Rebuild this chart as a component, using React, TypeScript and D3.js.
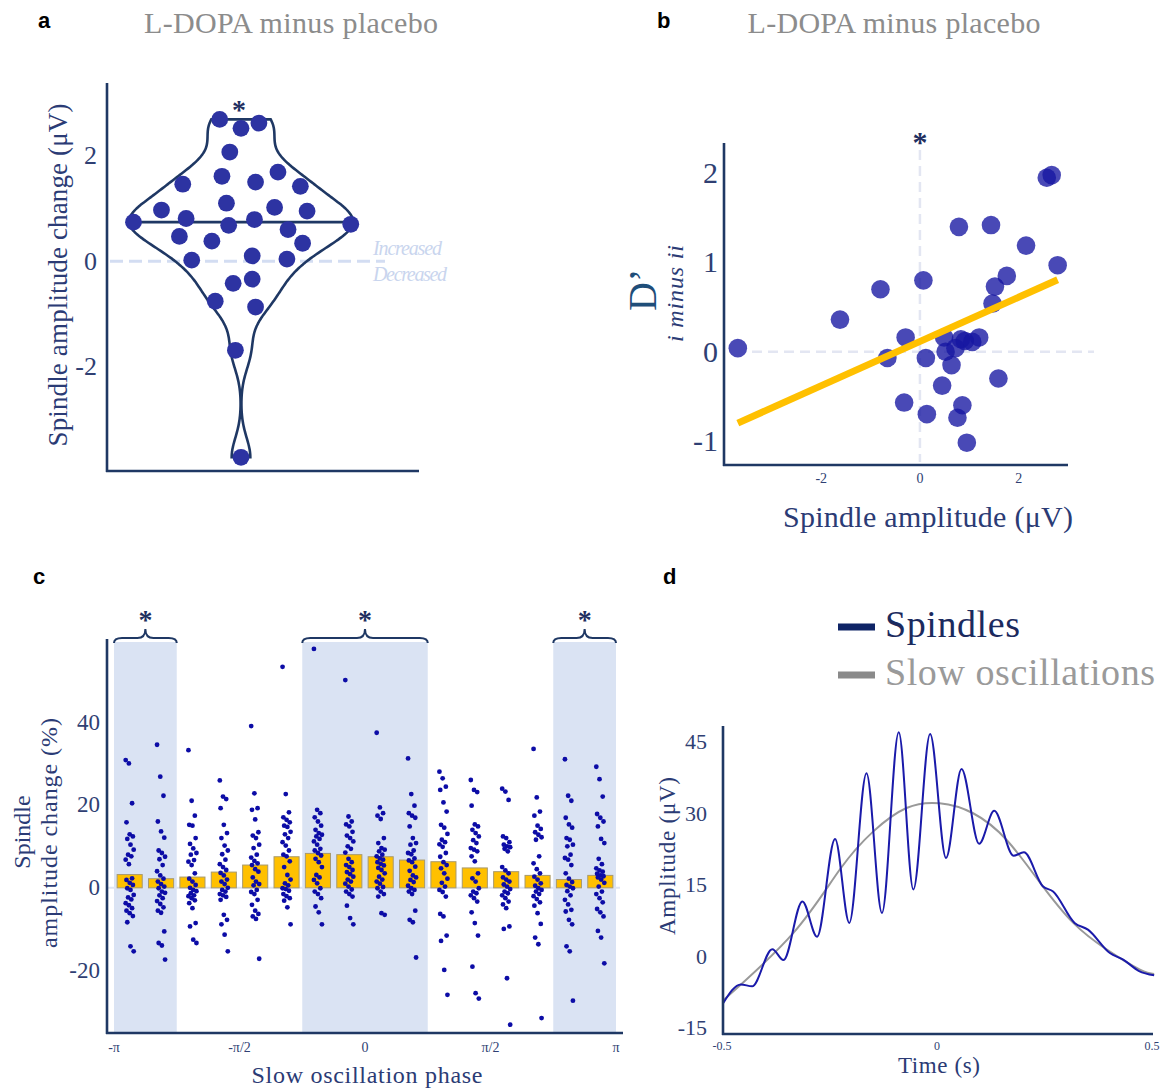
import React from "react";
import * as d3 from "d3";

const SERIF = "'Liberation Serif', 'DejaVu Serif', serif";
const SANS = "'Liberation Sans', Arial, sans-serif";
const NAVY = "#1f3864";
const TICK = "#2f3f73";
const TITLE = "#2b3b75";

// ---- panel a: L-DOPA minus placebo, spindle amplitude change (uV)
const ampChange = [2.69, 2.52, 2.62, 2.07, 1.61, 1.5, 1.69, 1.46, 1.42, 0.97, 1.1, 1.02, 0.95, 0.74, 0.81, 0.68,
  0.79, 0.7, 0.47, 0.6, 0.38, 0.34, 0.02, 0.1, 0.04, -0.42, -0.34, -0.76, -0.87, -1.69, -3.72];
// horizontal spread of each point, as a share of the violin's widest half
const ampJitter = [-0.19, 0, 0.16, -0.1, -0.17, 0.13, 0.33, -0.52, 0.53, -0.71, -0.13, 0.3, 0.59, -0.96, -0.49, -0.11,
  0.12, 0.98, -0.55, 0.42, -0.26, 0.55, -0.44, 0.1, 0.41, -0.07, 0.1, -0.23, 0.13, -0.05, 0];
const ampTicks = [-2, 0, 2];
const violinBandwidth = 0.37;

// ---- panel b: D' (i minus ii) against spindle amplitude
const spindleAmp = [-3.69, -1.62, -0.8, 0.07, -0.29, -0.66, 0.12, -0.32, 0.14, 0.45, 0.49, 0.52, 0.64, 0.72, 0.83, 0.91,
  1.06, 1.2, 0.86, 0.76, 0.95, 0.79, 1.44, 1.59, 1.47, 1.52, 1.76, 2.15, 2.79, 2.57, 2.67];
const dPrime = [0.04, 0.36, 0.7, 0.8, 0.16, -0.07, -0.07, -0.57, -0.7, -0.38, 0.16, 0.0, -0.15, 0.04, 0.14, 0.12,
  0.11, 0.16, -0.6, -0.74, -1.02, 1.4, 1.42, -0.3, 0.54, 0.73, 0.85, 1.19, 0.97, 1.95, 1.98];
const fitSlope = 0.248;
const fitIntercept = 0.115;
const bxTicks = [-2, 0, 2];
const byTicks = [-1, 0, 1, 2];

// ---- panel c: amplitude change per slow oscillation phase bin (%)
const phaseMeans = [3.2, 2.2, 2.6, 3.8, 5.5, 7.5, 8.3, 8.0, 7.5, 6.7, 6.3, 4.8, 3.9, 3.0, 2.0, 3.0];
const phaseValues = [
  [30.8, 30.0, 20.4, 15.8, 12.9, 12.4, 11.8, 10.4, 9.2, 8.0, 7.6, 6.8, 5.7, 2.3, 1.9, 1.2, 0.7, -0.1, -0.5, -1.7, -2.3, -2.8, -3.7, -4.2, -4.9, -5.5, -6.1, -6.8, -8.3, -14.1, -15.3],
  [34.5, 26.8, 22.2, 16.0, 13.6, 12.1, 9.0, 8.4, 7.5, 6.9, 5.5, 4.0, 3.0, 2.2, 1.5, 0.9, 0.3, -0.1, -0.9, -1.2, -1.8, -2.5, -3.2, -3.9, -4.7, -5.5, -6.0, -10.5, -13.3, -13.9, -17.3],
  [33.2, 21.0, 17.4, 15.2, 15.0, 12.0, 10.6, 9.5, 8.4, 8.0, 6.7, 6.3, 5.5, 3.5, 2.2, 1.5, 0.7, 0.0, -0.5, -0.8, -1.3, -1.8, -2.0, -2.5, -3.0, -3.7, -4.9, -8.5, -9.3, -12.5, -13.3],
  [25.9, 22.0, 21.4, 19.2, 15.2, 13.2, 12.0, 10.2, 9.0, 8.1, 6.8, 5.7, 5.0, 4.3, 3.6, 3.0, 2.0, 1.5, 0.9, 0.0, -0.5, -0.9, -1.5, -1.8, -2.2, -2.9, -6.5, -7.7, -8.8, -11.3, -15.3],
  [39.0, 22.8, 19.2, 18.8, 16.5, 13.4, 12.6, 12.0, 10.4, 9.6, 8.0, 7.3, 6.5, 5.9, 5.5, 4.5, 3.9, 2.5, 1.5, 0.9, 0.6, -0.5, -1.0, -1.5, -2.9, -4.1, -5.5, -6.3, -6.9, -7.5, -17.1],
  [53.3, 22.6, 18.2, 17.0, 16.4, 15.8, 15.0, 14.7, 13.5, 12.9, 12.0, 11.0, 10.2, 9.0, 8.0, 7.6, 6.4, 5.0, 3.1, 2.0, 1.1, 0.6, -0.1, -0.3, -0.7, -1.5, -2.0, -2.5, -3.1, -4.7, -8.8],
  [57.6, 18.8, 18.0, 17.0, 16.0, 15.0, 14.0, 13.2, 12.8, 12.4, 11.8, 11.2, 10.4, 9.4, 9.0, 8.4, 7.8, 7.0, 6.2, 5.0, 3.1, 2.5, 1.9, 1.1, -0.1, -0.9, -1.5, -2.5, -4.5, -5.9, -8.8],
  [50.1, 17.2, 16.0, 15.3, 14.8, 13.5, 12.6, 12.0, 11.2, 10.0, 9.4, 8.5, 7.0, 6.2, 5.5, 5.0, 4.3, 3.8, 3.3, 2.7, 2.0, 1.5, 1.0, 0.3, -0.4, -0.9, -1.5, -2.1, -4.3, -7.3, -8.8],
  [37.4, 19.4, 18.0, 17.4, 16.6, 12.0, 10.8, 9.6, 9.2, 8.8, 8.0, 7.6, 7.1, 6.8, 6.2, 5.8, 5.4, 4.8, 4.3, 3.5, 2.7, 2.0, 1.5, 1.0, 0.2, -0.1, -0.9, -1.5, -2.1, -6.1, -6.5],
  [31.2, 22.6, 19.8, 18.0, 17.4, 16.9, 14.8, 12.0, 10.8, 10.4, 9.0, 8.4, 8.1, 7.1, 6.6, 6.2, 5.1, 4.1, 3.0, 2.5, 1.9, 1.4, 0.5, -0.1, -0.5, -0.9, -1.5, -5.5, -7.7, -8.3, -16.8],
  [28.0, 26.4, 24.4, 23.6, 20.6, 18.4, 15.2, 14.5, 13.0, 11.6, 11.0, 10.5, 9.9, 8.4, 7.5, 6.2, 5.5, 4.7, 3.5, 2.2, 1.2, 0.3, -0.5, -1.0, -2.1, -6.3, -6.9, -11.5, -12.8, -19.8, -25.8],
  [26.0, 23.6, 23.1, 19.8, 15.3, 14.8, 14.0, 13.2, 12.4, 11.5, 10.8, 9.6, 9.2, 8.8, 7.6, 6.4, 3.5, 2.3, 1.5, -0.1, -0.9, -1.3, -1.8, -2.5, -3.3, -5.9, -8.5, -11.5, -19.0, -25.4, -26.7],
  [23.9, 23.2, 21.2, 12.4, 12.0, 11.0, 10.4, 10.0, 9.8, 9.4, 8.8, 5.0, 4.2, 3.5, 2.5, 2.0, 1.5, 0.8, 0.3, -0.3, -0.9, -1.3, -1.8, -2.5, -3.3, -4.0, -4.9, -9.3, -9.9, -21.8, -33.0],
  [33.5, 21.8, 18.4, 17.4, 15.0, 14.2, 13.4, 12.8, 12.2, 11.6, 7.6, 5.9, 4.5, 3.5, 2.7, 2.0, 1.1, 0.5, -0.1, -0.5, -0.9, -1.5, -2.0, -2.7, -3.5, -4.3, -6.1, -8.7, -12.0, -13.6, -31.4],
  [31.0, 22.2, 21.0, 16.9, 15.3, 14.5, 12.0, 11.6, 10.4, 10.0, 8.0, 7.2, 6.8, 5.5, 3.5, 2.2, 1.4, 0.7, 0.3, -0.1, -0.8, -1.8, -2.9, -4.0, -5.3, -5.7, -7.7, -8.8, -14.1, -15.3, -27.2],
  [29.2, 26.2, 22.0, 17.8, 16.9, 16.0, 14.8, 11.8, 10.8, 7.0, 5.7, 4.7, 4.2, 3.9, 3.4, 3.0, 2.8, 2.5, 2.0, 1.2, 0.3, -0.9, -1.5, -2.5, -3.5, -5.1, -5.9, -6.9, -10.4, -12.0, -18.2],
];
const sigRanges = [[0, 1], [6, 9], [14, 15]];
const phaseTicks = [-Math.PI, -Math.PI / 2, 0, Math.PI / 2, Math.PI];
const phaseTickLabels = ["-π", "-π/2", "0", "π/2", "π"];
const cTicks = [-20, 0, 20, 40];

// ---- panel d: averaged traces
const spTime = [-0.497, -0.456, -0.43, -0.383, -0.357, -0.313, -0.279, -0.237, -0.204, -0.164, -0.128, -0.089, -0.055,
  -0.016, 0.021, 0.057, 0.098, 0.133, 0.178, 0.202, 0.246, 0.27, 0.32, 0.351, 0.402, 0.433, 0.47, 0.505];
const spAmp = [-9.8, -5.9, -6.3, 1.5, -0.8, 11.5, 4.1, 24.6, 7.0, 38.4, 9.1, 47.0, 14.0, 46.6, 20.6, 39.3, 23.6, 30.5,
  21.1, 21.8, 14.7, 13.6, 7.0, 5.6, 0.7, -0.7, -3.1, -4.0];
const soTime = [-0.497, -0.334, -0.226, -0.148, -0.071, 0.006, 0.084, 0.162, 0.24, 0.317, 0.395, 0.472, 0.505];
const soAmp = [-9.2, 4.9, 18.2, 26.2, 31.1, 32.1, 30.0, 24.4, 15.4, 7.0, 1.4, -2.8, -3.7];
const dyTicks = [-15, 0, 15, 30, 45];
const dxTicks = [-0.5, 0, 0.5];

function PanelA() {
  const y = d3.scaleLinear().domain([-3.98, 3.38]).range([471, 83]);
  const cx = 241;
  const sorted = [...ampChange].sort(d3.ascending);
  const n = sorted.length;
  const bw = violinBandwidth;
  const kde = (v: number) =>
    d3.mean(sorted, (s) => Math.exp(-0.5 * ((v - s) / bw) ** 2))! / (bw * Math.sqrt(2 * Math.PI));
  const lo = sorted[0], hi = sorted[n - 1];
  const grid = d3.range(lo, hi, (hi - lo) / 200).concat([hi]);
  const dens = grid.map((v) => [v, kde(v)]);
  const w = d3.scaleLinear().domain([0, d3.max(dens, (d) => d[1])!]).range([0, 112]);
  const violin = d3.area<number[]>()
    .y((d) => y(d[0]))
    .x0((d) => cx - w(d[1]))
    .x1((d) => cx + w(d[1]))
    .curve(d3.curveBasis)(dens);
  const med = d3.median(sorted)!;
  const mw = w(kde(med));

  return (
    <g>
      <text x={38} y={28} fontFamily={SANS} fontWeight="bold" fontSize={22}>a</text>
      <text x={291} y={33} textAnchor="middle" fontFamily={SERIF} fontSize={30} fill="#8c8c8c" textLength={294}>
        L-DOPA minus placebo
      </text>
      <line x1={110} x2={385} y1={y(0)} y2={y(0)} stroke="#d3ddf2" strokeWidth={3} strokeDasharray="13,6" />
      <text x={373} y={255} fontFamily={SERIF} fontStyle="italic" fontSize={20} fill="#c9d5ee" textLength={69}>Increased</text>
      <text x={373} y={281} fontFamily={SERIF} fontStyle="italic" fontSize={20} fill="#c9d5ee" textLength={74}>Decreased</text>
      <path d={violin!} fill="none" stroke={NAVY} strokeWidth={2.6} />
      <line x1={cx - mw} x2={cx + mw} y1={y(med)} y2={y(med)} stroke={NAVY} strokeWidth={2.6} />
      {ampChange.map((v, i) => (
        <circle key={i} cx={cx + ampJitter[i] * 112} cy={y(v)} r={8.4} fill="#2d33a2" />
      ))}
      <text x={239} y={119} textAnchor="middle" fontFamily={SERIF} fontWeight="bold" fontSize={28} fill="#1f2f60">*</text>
      <line x1={107} x2={107} y1={83} y2={472} stroke={NAVY} strokeWidth={2.6} />
      <line x1={106} x2={419} y1={471} y2={471} stroke={NAVY} strokeWidth={2.6} />
      {ampTicks.map((t) => (
        <text key={t} x={97} y={y(t)} dy="0.33em" textAnchor="end" fontFamily={SERIF} fontSize={26} fill={TICK}>{t}</text>
      ))}
      <text transform="translate(67,275) rotate(-90)" textAnchor="middle" fontFamily={SERIF} fontSize={27}
        fill={TITLE} textLength={343}>Spindle amplitude change (μV)</text>
    </g>
  );
}

function PanelB() {
  const x = d3.scaleLinear().domain([-3.97, 3.0]).range([724, 1068]);
  const y = d3.scaleLinear().domain([-1.27, 2.34]).range([465, 143]);
  const [x0, x1] = d3.extent(spindleAmp) as [number, number];
  const fit = d3.line<number>().x((d) => x(d)).y((d) => y(fitIntercept + fitSlope * d))([x0, x1]);
  return (
    <g>
      <text x={657} y={28} fontFamily={SANS} fontWeight="bold" fontSize={22}>b</text>
      <text x={894} y={33} textAnchor="middle" fontFamily={SERIF} fontSize={30} fill="#8c8c8c" textLength={293}>
        L-DOPA minus placebo
      </text>
      <line x1={x(0)} x2={x(0)} y1={150} y2={462} stroke="#e3e6f2" strokeWidth={2.5} strokeDasharray="10,6" />
      <line x1={752} x2={1094} y1={y(0)} y2={y(0)} stroke="#e3e6f2" strokeWidth={2.5} strokeDasharray="10,6" />
      {spindleAmp.map((v, i) => (
        <circle key={i} cx={x(v)} cy={y(dPrime[i])} r={9.3} fill="#1616a2" fillOpacity={0.78} />
      ))}
      <path d={fit!} stroke="#ffc000" strokeWidth={7} fill="none" />
      <text x={x(0)} y={152} textAnchor="middle" fontFamily={SERIF} fontWeight="bold" fontSize={30} fill="#1f2f60">*</text>
      <line x1={724} x2={724} y1={143} y2={466} stroke={NAVY} strokeWidth={2.6} />
      <line x1={723} x2={1068} y1={465} y2={465} stroke={NAVY} strokeWidth={2.6} />
      {byTicks.map((t) => (
        <text key={t} x={718} y={y(t)} dy="0.33em" textAnchor="end" fontFamily={SERIF} fontSize={30} fill={TICK}>{t}</text>
      ))}
      {bxTicks.map((t) => (
        <text key={t} x={x(t)} y={483} textAnchor="middle" fontFamily={SERIF} fontSize={14} fill={TICK}>{t}</text>
      ))}
      <text x={928} y={527} textAnchor="middle" fontFamily={SERIF} fontSize={30} fill={TITLE} textLength={290}>
        Spindle amplitude (μV)
      </text>
      <text transform="translate(656,311) rotate(-90)" fontFamily={SERIF} fontSize={40} fill="#1f4e79">D’</text>
      <text transform="translate(683,342) rotate(-90)" fontFamily={SERIF} fontStyle="italic" fontSize={24} fill={TITLE}
        textLength={97}>i minus ii</text>
    </g>
  );
}

function brace(xa: number, xb: number, yb: number) {
  const xm = (xa + xb) / 2;
  const h = yb - 5;
  return `M${xa},${yb} Q${xa},${h} ${xa + 8},${h} L${xm - 8},${h} Q${xm},${h} ${xm},${h - 9}` +
    ` Q${xm},${h} ${xm + 8},${h} L${xb - 8},${h} Q${xb},${h} ${xb},${yb}`;
}

function PanelC() {
  const x = d3.scaleLinear().domain([-Math.PI, Math.PI]).range([114, 616]);
  const band = d3.scaleBand<number>().domain(d3.range(phaseMeans.length)).range([114, 616])
    .paddingInner(0.2).paddingOuter(0.1);
  const step = band.step();
  const y = d3.scaleLinear().domain([-35, 60]).range([1033, 639]);
  return (
    <g>
      <text x={33} y={584} fontFamily={SANS} fontWeight="bold" fontSize={22}>c</text>
      {sigRanges.map(([a, b], k) => {
        const xa = 114 + a * step, xb = 114 + (b + 1) * step;
        return (
          <g key={k}>
            <rect x={xa} y={642} width={xb - xa} height={1033 - 642} fill="#dae3f3" />
            <path d={brace(xa, xb, 643)} fill="none" stroke={NAVY} strokeWidth={2} />
            <text x={(xa + xb) / 2} y={629} textAnchor="middle" fontFamily={SERIF} fontWeight="bold" fontSize={28}
              fill="#1f2f60">*</text>
          </g>
        );
      })}
      <line x1={107} x2={620} y1={y(0)} y2={y(0)} stroke="#dfe5f2" strokeWidth={2} />
      {phaseMeans.map((m, i) => (
        <rect key={i} x={band(i)} y={y(m)} width={band.bandwidth()} height={y(0) - y(m)} fill="#ffc000"
          stroke="#a89a6e" strokeWidth={1} />
      ))}
      {phaseValues.map((vals, i) =>
        vals.map((v, j) => (
          <circle key={`${i}-${j}`} cx={band(i)! + band.bandwidth() / 2 + (((j * 37) % 11) - 5) * 0.8} cy={y(v)}
            r={2.4} fill="#0c0ca6" />
        ))
      )}
      <line x1={107} x2={107} y1={639} y2={1034} stroke={NAVY} strokeWidth={2.6} />
      <line x1={106} x2={623} y1={1033} y2={1033} stroke={NAVY} strokeWidth={2.6} />
      {cTicks.map((t) => (
        <text key={t} x={100} y={y(t)} dy="0.33em" textAnchor="end" fontFamily={SERIF} fontSize={23} fill={TICK}>{t}</text>
      ))}
      {phaseTicks.map((t, i) => (
        <text key={i} x={x(t)} y={1052} textAnchor="middle" fontFamily={SERIF} fontSize={14} fill={TICK}>
          {phaseTickLabels[i]}
        </text>
      ))}
      <text x={367} y={1083} textAnchor="middle" fontFamily={SERIF} fontSize={24} fill={TITLE} textLength={231}>
        Slow oscillation phase
      </text>
      <text transform="translate(30,832) rotate(-90)" textAnchor="middle" fontFamily={SERIF} fontSize={24} fill={TITLE}>
        Spindle
      </text>
      <text transform="translate(57,833) rotate(-90)" textAnchor="middle" fontFamily={SERIF} fontSize={24} fill={TITLE}
        textLength={230}>amplitude change (%)</text>
    </g>
  );
}

function PanelD() {
  const x = d3.scaleLinear().domain([-0.5, 0.5]).range([722, 1152]);
  const y = d3.scaleLinear().domain([-16.3, 48.3]).range([1034, 726]);
  const spLine = d3.line<number>().x((_, i) => x(spTime[i])).y((d) => y(d)).curve(d3.curveMonotoneX)(spAmp);
  const soLine = d3.line<number>().x((_, i) => x(soTime[i])).y((d) => y(d)).curve(d3.curveNatural)(soAmp);
  return (
    <g>
      <text x={663} y={584} fontFamily={SANS} fontWeight="bold" fontSize={22}>d</text>
      <line x1={838} x2={875} y1={627} y2={627} stroke="#0f2466" strokeWidth={7} />
      <text x={885} y={637} fontFamily={SERIF} fontSize={38} fill="#1b2a5e" textLength={135}>Spindles</text>
      <line x1={838} x2={875} y1={675} y2={675} stroke="#8a8a8a" strokeWidth={7} />
      <text x={885} y={685} fontFamily={SERIF} fontSize={38} fill="#9a9a9a" textLength={270}>Slow oscillations</text>
      <path d={soLine!} fill="none" stroke="#999" strokeWidth={2} />
      <path d={spLine!} fill="none" stroke="#1a1aaa" strokeWidth={2} />
      <line x1={723} x2={723} y1={726} y2={1035} stroke={NAVY} strokeWidth={2.6} />
      <line x1={722} x2={1153} y1={1034} y2={1034} stroke={NAVY} strokeWidth={2.6} />
      {dyTicks.map((t) => (
        <text key={t} x={707} y={y(t)} dy="0.33em" textAnchor="end" fontFamily={SERIF} fontSize={22} fill={TICK}>{t}</text>
      ))}
      {dxTicks.map((t) => (
        <text key={t} x={x(t)} y={1050} textAnchor="middle" fontFamily={SERIF} fontSize={12} fill={TICK}>{t}</text>
      ))}
      <text x={939} y={1073} textAnchor="middle" fontFamily={SERIF} fontSize={23} fill={TITLE} textLength={82}>Time (s)</text>
      <text transform="translate(675,856) rotate(-90)" textAnchor="middle" fontFamily={SERIF} fontSize={23} fill={TITLE}
        textLength={158}>Amplitude (μV)</text>
    </g>
  );
}

export default function App() {
  return (
    <svg width={1165} height={1090} viewBox="0 0 1165 1090"
      style={{ position: "absolute", left: 0, top: 0, background: "#fff" }}>
      <rect width={1165} height={1090} fill="#fff" />
      <PanelA />
      <PanelB />
      <PanelC />
      <PanelD />
    </svg>
  );
}
